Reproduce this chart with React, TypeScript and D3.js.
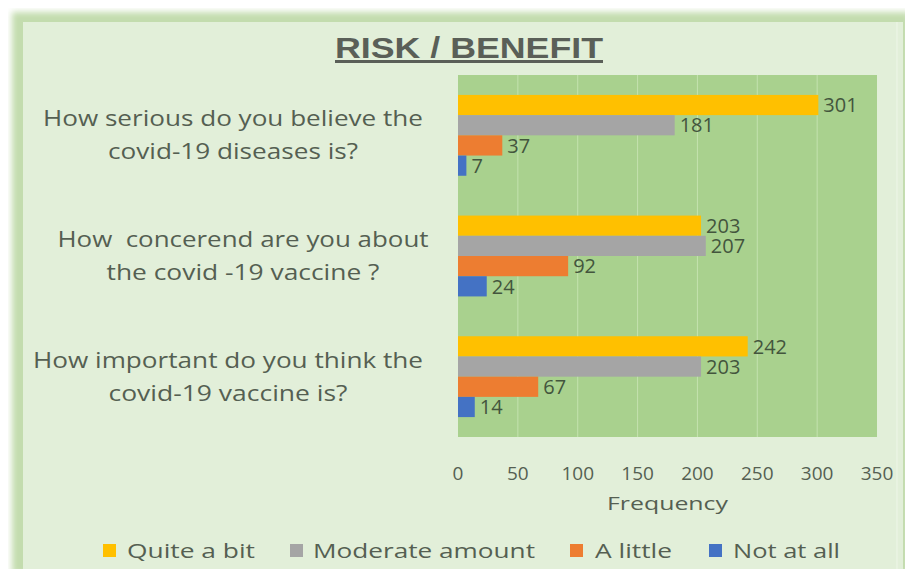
import React from "react";
import * as d3 from "d3";

const categories = [
  ["How serious do you believe the", "covid-19 diseases is?"],
  ["How  concerend are you about", "the covid -19 vaccine ?"],
  ["How important do you think the", "covid-19 vaccine is?"],
];
const seriesNames = ["Quite a bit", "Moderate amount", "A little", "Not at all"];
const quiteABit = [301, 203, 242];
const moderateAmount = [181, 207, 203];
const aLittle = [37, 92, 67];
const notAtAll = [7, 24, 14];
const xTicks = [0, 50, 100, 150, 200, 250, 300, 350];
const colors = ["#ffc000", "#a5a5a5", "#ed7d31", "#4472c4"];

const seriesValues = [quiteABit, moderateAmount, aLittle, notAtAll];

const W = 913;
const H = 577;
const plot = { left: 458, right: 877, top: 75, bottom: 437 };
const textColor = "#555f52";
const labelColor = "#43553d";
const font = "'Open Sans', 'DejaVu Sans', sans-serif";

// label layout (styles)
const catLabelCenters = [233, 243, 228];
const catLabelWidths = [
  [380, 250],
  [371, 273],
  [390, 239],
];
const legendLayout = [
  { sx: 103, tx: 127, tw: 128 },
  { sx: 290, tx: 313, tw: 222 },
  { sx: 570, tx: 595, tw: 77 },
  { sx: 709, tx: 733, tw: 107 },
];

export default function App() {
  const x = d3.scaleLinear().domain([0, 350]).range([plot.left, plot.right]);
  const y0 = d3
    .scaleBand<number>()
    .domain(d3.range(categories.length))
    .range([plot.top, plot.bottom])
    .paddingInner(0.33)
    .paddingOuter(0.165);
  const y1 = d3
    .scaleBand<number>()
    .domain(d3.range(seriesNames.length))
    .range([0, y0.bandwidth()]);

  return (
    <div style={{ margin: -8, width: W, height: H }}>
      <svg width={W} height={H} style={{ display: "block" }}>
        <defs>
          <filter id="soft" x="-5%" y="-5%" width="110%" height="110%">
            <feGaussianBlur stdDeviation="3" />
          </filter>
        </defs>
        <rect x={0} y={0} width={W} height={H} fill="#ffffff" />
        <rect x={12} y={12} width={898} height={562} fill="#c3dcae" filter="url(#soft)" />
        <rect x={23} y={22} width={880} height={548} fill="#e2efd9" />
        <line x1={897} x2={897} y1={22} y2={570} stroke="#eef6e8" strokeWidth={1} />

        {/* title */}
        <text
          x={469}
          y={58}
          textAnchor="middle"
          fontFamily="'Liberation Sans', Arial, sans-serif"
          fontWeight="bold"
          fontSize={30}
          fill="#5a5f58"
          textDecoration="underline"
          textLength={268}
          lengthAdjust="spacingAndGlyphs"
        >
          RISK / BENEFIT
        </text>

        {/* plot area */}
        <rect
          x={plot.left}
          y={plot.top}
          width={plot.right - plot.left}
          height={plot.bottom - plot.top}
          fill="#a9d18e"
        />
        {xTicks.slice(1, -1).map((t) => (
          <line
            key={t}
            x1={x(t)}
            x2={x(t)}
            y1={plot.top}
            y2={plot.bottom}
            stroke="#c4e2ae"
            strokeWidth={1}
          />
        ))}

        {/* bars */}
        {categories.map((_, ci) => (
          <g key={ci} transform={`translate(0,${y0(ci)})`}>
            {seriesValues.map((vals, si) => (
              <g key={si}>
                <rect
                  x={x(0)}
                  y={y1(si)}
                  width={x(vals[ci]) - x(0)}
                  height={y1.bandwidth()}
                  fill={colors[si]}
                />
                <text
                  x={x(vals[ci]) + 5}
                  y={(y1(si) as number) + y1.bandwidth() / 2}
                  dy="0.36em"
                  fontFamily={font}
                  fontSize={20}
                  fill={labelColor}
                >
                  {vals[ci]}
                </text>
              </g>
            ))}
          </g>
        ))}

        {/* category labels */}
        {categories.map((lines, ci) => {
          const cy = (y0(ci) as number) + y0.bandwidth() / 2;
          return (
            <g key={ci}>
              {lines.map((ln, li) => (
                <text
                  key={li}
                  x={catLabelCenters[ci]}
                  y={cy - 9 + li * 33}
                  textAnchor="middle"
                  fontFamily={font}
                  fontSize={21}
                  fill={textColor}
                  textLength={catLabelWidths[ci][li]}
                  lengthAdjust="spacingAndGlyphs"
                  style={{ whiteSpace: "pre" }}
                >
                  {ln}
                </text>
              ))}
            </g>
          );
        })}

        {/* x ticks */}
        {xTicks.map((t) => (
          <text
            key={t}
            x={x(t)}
            y={480}
            textAnchor="middle"
            fontFamily={font}
            fontSize={19}
            fill={textColor}
          >
            {t}
          </text>
        ))}
        <text
          x={(plot.left + plot.right) / 2}
          y={510}
          textAnchor="middle"
          fontFamily={font}
          fontSize={19}
          fill={textColor}
          textLength={121}
          lengthAdjust="spacingAndGlyphs"
        >
          Frequency
        </text>

        {/* legend */}
        {seriesNames.map((n, i) => (
          <g key={n}>
            <rect x={legendLayout[i].sx} y={544} width={13} height={13} fill={colors[i]} />
            <text
              x={legendLayout[i].tx}
              y={558}
              fontFamily={font}
              fontSize={20}
              fill={textColor}
              textLength={legendLayout[i].tw}
              lengthAdjust="spacingAndGlyphs"
            >
              {n}
            </text>
          </g>
        ))}
      </svg>
    </div>
  );
}
